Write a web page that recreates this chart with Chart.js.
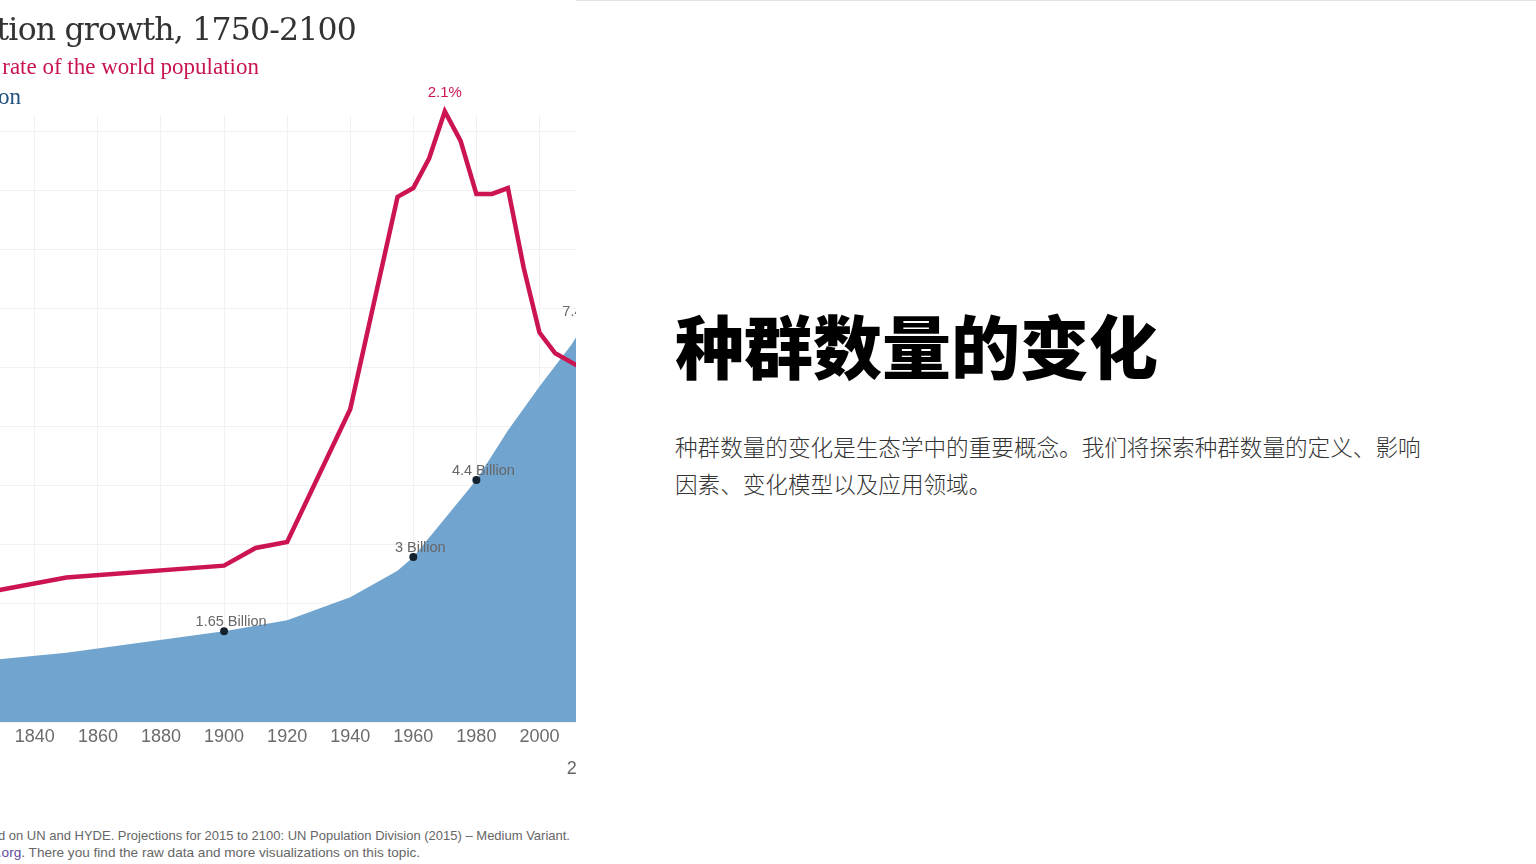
<!DOCTYPE html>
<html lang="zh-CN">
<head>
<meta charset="utf-8">
<title>种群数量的变化</title>
<script src="https://cdn.jsdelivr.net/npm/chart.js@4.4.1/dist/chart.umd.min.js"></script>
<style>
  html, body { margin: 0; padding: 0; background: #fff; }
  body { width: 1536px; height: 864px; position: relative; overflow: hidden; }
  #left { position: absolute; left: 0; top: 0; width: 576px; height: 864px; overflow: hidden; }
  #chart-wrap { position: absolute; left: -184px; top: 0; width: 884px; height: 800px; }
  .t { position: absolute; white-space: nowrap; line-height: 1; }
  #title { right: 220px; top: 11px; font: 31.5px "DejaVu Serif", "Liberation Serif", serif; color: #333; letter-spacing: -0.8px; }
  #sub1 { right: 317px; top: 54px; font: 23px "Liberation Serif", serif; color: #c8154f; }
  #sub2 { right: 555px; top: 84px; font: 23px "Liberation Serif", serif; color: #1f4f7f; }
  .foot { position: absolute; white-space: nowrap; font: 13px "Liberation Sans", Arial, sans-serif; color: #666; }
  #foot1 { right: 6px; top: 828px; }
  #foot2 { right: 156px; top: 845px; font-size: 13.6px; }
  #foot2 a { color: #5b4a9e; text-decoration: none; }
  #topline { position: absolute; left: 576px; top: 0; width: 960px; height: 1px; background: #e2e2e2; }
  #right h1 { position: absolute; left: 675px; top: 310px; margin: 0; font: 900 69px/1 "Noto Sans CJK SC", sans-serif; color: #000; white-space: nowrap; }
  #right p { position: absolute; left: 675px; top: 428px; width: 760px; margin: 0; font: 300 22.6px/37px "Noto Sans CJK SC", sans-serif; color: #333; }
</style>
</head>
<body>
<div id="left">
  <div id="chart-wrap"><canvas id="pop-chart" width="884" height="800"></canvas></div>
  <div class="t" id="title">World population growth, 1750-2100</div>
  <div class="t" id="sub1">Annual growth rate of the world population</div>
  <div class="t" id="sub2">World population</div>
  <div class="foot" id="foot1">Data source: Our World in Data based on UN and HYDE. Projections for 2015 to 2100: UN Population Division (2015) – Medium Variant.</div>
  <div class="foot" id="foot2">The interactive data visualization is available at <a>OurWorldInData.org</a>. There you find the raw data and more visualizations on this topic.</div>
</div>
<div id="topline"></div>
<div id="right">
  <h1>种群数量的变化</h1>
  <p>种群数量的变化是生态学中的重要概念。我们将探索种群数量的定义、影响因素、变化模型以及应用领域。</p>
</div>
<script>
// growth rate of world population (%)
const rateYears = [1800, 1850, 1900, 1910, 1920, 1940, 1955, 1960, 1965, 1970, 1975, 1980, 1985, 1990, 1995, 2000, 2005, 2010, 2015];
const growthRate = [0.39, 0.49, 0.53, 0.59, 0.61, 1.06, 1.78, 1.81, 1.91, 2.07, 1.97, 1.79, 1.79, 1.81, 1.54, 1.32, 1.25, 1.22, 1.19];

// world population (billions)
const popYears = [1800, 1850, 1900, 1920, 1940, 1955, 1960, 1970, 1980, 1990, 2000, 2010, 2015];
const population = [0.98, 1.26, 1.65, 1.85, 2.27, 2.75, 3.0, 3.7, 4.4, 5.3, 6.1, 6.85, 7.3];

// highlighted points
const markerYears = [1900, 1960, 1980, 2015];
const markerValues = [1.65, 3.0, 4.4, 7.3];
const markerLabels = ["1.65 Billion", "3 Billion", "4.4 Billion", "7.4 Billion"];

const peakLabel = "2.1%";
const bottomLabelYear = 2015;

const RED = "#cc1452";
const BLUE = "#71a5cf";
const GRID = "#f1f1f1";

const toPoints = (xs, ys) => xs.map((x, i) => ({ x, y: ys[i] }));

const labelPlugin = {
  id: "labels",
  afterDatasetsDraw(chart) {
    const ctx = chart.ctx;
    ctx.save();

    // population markers
    const markMeta = chart.getDatasetMeta(0);
    ctx.font = "14.5px 'Liberation Sans', Arial, sans-serif";
    ctx.fillStyle = "#666";
    ctx.textAlign = "center";
    ctx.textBaseline = "middle";
    markMeta.data.forEach((pt, i) => {
      ctx.fillText(markerLabels[i], pt.x + 7, pt.y - 9);
    });

    // peak of the growth rate
    const rateMeta = chart.getDatasetMeta(1);
    const peakIdx = growthRate.indexOf(Math.max(...growthRate));
    const peak = rateMeta.data[peakIdx];
    ctx.font = "15px 'Liberation Sans', Arial, sans-serif";
    ctx.fillStyle = RED;
    ctx.fillText(peakLabel, peak.x, peak.y - 18);

    // second row label under the axis
    ctx.font = "18px 'Liberation Sans', Arial, sans-serif";
    ctx.fillStyle = "#666";
    ctx.fillText(String(bottomLabelYear), chart.scales.x.getPixelForValue(bottomLabelYear), 769);

    ctx.restore();
  }
};

const chart = new Chart(document.getElementById("pop-chart"), {
  type: "line",
  data: {
    datasets: [
      {
        label: "markers",
        data: toPoints(markerYears, markerValues),
        yAxisID: "y2",
        showLine: false,
        pointRadius: 4,
        pointBackgroundColor: "#14222f",
        pointBorderWidth: 0,
        clip: false,
        order: 0
      },
      {
        label: "Annual growth rate of the world population",
        data: toPoints(rateYears, growthRate),
        yAxisID: "y",
        borderColor: RED,
        borderWidth: 4.5,
        pointRadius: 0,
        tension: 0,
        fill: false,
        clip: false,
        order: 1
      },
      {
        label: "World population",
        data: toPoints(popYears, population),
        yAxisID: "y2",
        borderWidth: 0,
        backgroundColor: BLUE,
        pointRadius: 0,
        tension: 0,
        fill: "origin",
        order: 2
      }
    ]
  },
  options: {
    responsive: false,
    animation: false,
    layout: {
      autoPadding: false,
      padding: { left: 29.6, right: 34.4, top: 115, bottom: 38 }
    },
    plugins: { legend: { display: false }, tooltip: { enabled: false } },
    scales: {
      x: {
        type: "linear",
        min: 1780,
        max: 2040,
        grid: { color: GRID, drawTicks: false },
        border: { display: false },
        ticks: {
          stepSize: 20,
          padding: 4,
          color: "#6b6b6b",
          font: { size: 18, family: "'Liberation Sans', Arial, sans-serif" },
          callback: v => String(v)
        },
        afterFit: s => { s.height = 40; }
      },
      y: {
        position: "left",
        min: 0,
        max: 2.0576,
        grid: { color: GRID, drawTicks: false },
        border: { display: false },
        ticks: { display: false, stepSize: 0.2, includeBounds: false },
        afterFit: s => { s.width = 0; }
      },
      y2: {
        display: false,
        min: 0,
        max: 11.04
      }
    }
  },
  plugins: [labelPlugin]
});
</script>
</body>
</html>
